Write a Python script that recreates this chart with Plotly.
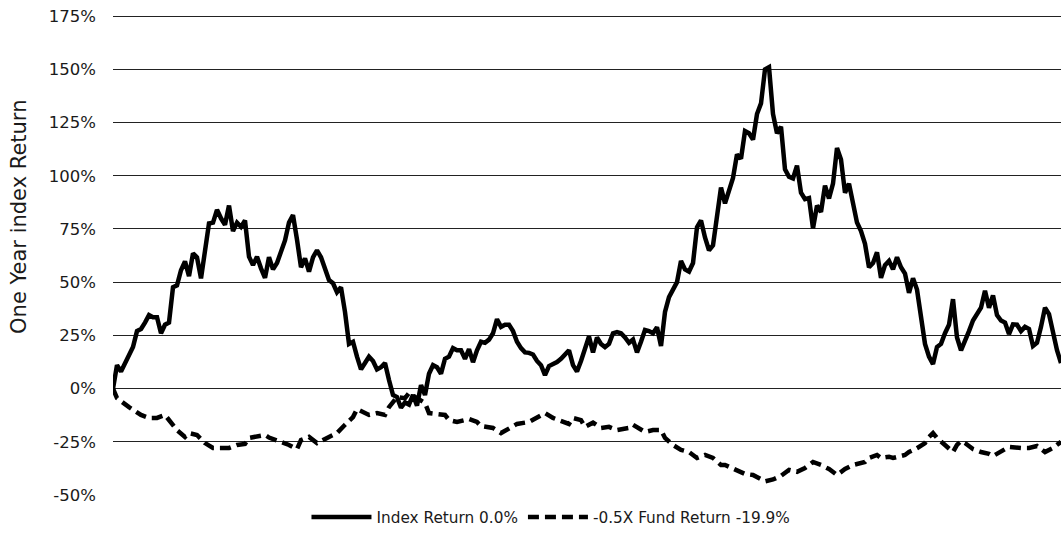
import plotly.graph_objects as go

# ---- Data ----
index_days = list(range(0, 238))
index_return = [
    0, 11, 8, 12, 15, 19.5, 27, 28, 31, 34.5,
    33.5, 33.5, 26, 30, 31, 47.6, 48.5, 55.6, 59.8, 52.8,
    63.5, 61.7, 51.8, 65, 77.6, 78, 84, 80, 77, 86,
    74, 78, 76, 79, 62, 58, 62, 56.5, 52, 61.7,
    56, 59, 64, 69.6, 78, 81.5, 70, 57, 61.2, 55,
    61.7, 65, 61.7, 56.5, 51, 49.5, 45.3, 47.6, 36, 21,
    22, 15, 9, 12, 15, 13, 9, 10, 12, 4,
    -3, -4, -9, -6.5, -7.5, -3, -8, 1.6, -3, 7,
    11, 10, 7, 14, 15, 19, 18, 18, 14, 18.5,
    12.4, 18, 22, 21.5, 23, 26, 32.6, 29, 30, 30,
    27, 22, 19, 17, 16.8, 16, 13, 11, 6.3, 10.6,
    11.5, 12.5, 14, 16, 18, 11, 8, 13, 18, 24.5,
    17, 24, 21, 19.5, 21, 26, 26.5, 26, 24, 21.5,
    23, 17, 22, 27.5, 27, 26, 28.8, 20, 36, 43,
    46.5, 50, 60, 56, 55, 59, 75.8, 79, 71, 65,
    67.3, 80, 94.5, 87, 94, 99, 110, 108, 121, 120,
    117, 129, 134, 150, 151, 129, 120, 123, 103, 99.5,
    98.7, 104.8, 92, 89, 89.5, 75.3, 86, 83, 95.4, 89.3,
    96.3, 113, 107.6, 92, 96.3, 87.5, 78, 74, 68, 57,
    59, 64, 52, 58, 60, 56, 61.7, 57, 54, 45,
    51.8, 46.5, 32, 21, 15, 11.5, 19.5, 21, 26, 30,
    42, 24, 18, 22, 27, 32, 35, 38, 46, 38,
    43.8, 34.5, 32, 31, 25.6, 30.2, 30, 27, 29, 28,
    20, 21.5, 29, 38, 35, 26, 18, 12,
]

fund_days = [
    0, 1, 4, 7, 9, 11, 13, 15, 16, 18, 19, 21, 23, 25, 27, 29, 31, 33, 34, 36,
    38, 39, 42, 44, 46, 47, 49, 51, 54, 56, 58, 60, 61, 64, 66, 68, 69, 71, 73, 74,
    76, 78, 79, 83, 84, 86, 89, 91, 92, 95, 97, 99, 101, 104, 106, 108, 110, 113, 114, 115,
    117, 118, 120, 122, 124, 126, 129, 130, 133, 135, 137, 138, 140, 142, 144, 146, 148, 150, 152, 153,
    156, 158, 160, 163, 165, 167, 169, 171, 173, 175, 177, 179, 181, 183, 185, 188, 189, 191, 192, 194,
    195, 198, 199, 201, 203, 204, 205, 206, 208, 210, 211, 212, 213, 215, 217, 219, 220, 223, 224, 227,
    229, 231, 233, 235, 237,
]
fund_return = [
    0, -4.5, -8.7, -12.4, -13.8, -13.8, -12.4, -17, -19.5, -22.7, -20.9, -21.8, -25.6, -27.9, -27.9, -27.9, -26.5, -26, -23.2, -22.7,
    -21.8, -23, -25, -26.5, -28.4, -24.2, -22.7, -25.6, -22.7, -20.9, -17, -13.4, -9.6, -12.4, -11.5, -12.4, -8.7, -4, -4.5, -2.1,
    -4.5, -6.8, -11.5, -12.4, -14.8, -15.7, -14.3, -15.7, -17.6, -18.5, -20.9, -19, -16.6, -15.7, -13.8, -11.5, -13.8, -15.7, -16.6, -13.8,
    -14.8, -18, -16, -18.5, -18, -19.5, -18.5, -17, -20.4, -19.5, -19.5, -23.2, -26.5, -28.8, -29.8, -32.6, -31.2, -32.6, -35.9, -35.9,
    -38.7, -40.1, -40.6, -43.6, -42.7, -41, -38.2, -39.1, -37.3, -34.5, -35.9, -37.8, -40.6, -37.8, -35.9, -34.5, -32.6, -31.2, -32.6, -32,
    -32.6, -31.2, -29.8, -28, -25.6, -22.7, -20.9, -23.2, -26.5, -29.8, -26.5, -24.6, -25.6, -28.4, -29.8, -30.7, -31.7, -28.4, -27.4, -27.9,
    -27.9, -27, -29.8, -27.9, -25,
]

series_names = ["Index Return 0.0%", "-0.5X Fund Return -19.9%"]
y_ticks = [-50, -25, 0, 25, 50, 75, 100, 125, 150, 175]
y_tick_labels = [f"{v}%" for v in y_ticks]
y_title = "One Year index Return"

FONT = "DejaVu Sans, Verdana, sans-serif"
INK = "#1a1a1a"

fig = go.Figure()
fig.add_trace(go.Scatter(
    x=index_days, y=index_return, mode="lines", name=series_names[0],
    line=dict(color="#000000", width=4.5),
))
fig.add_trace(go.Scatter(
    x=fund_days, y=fund_return, mode="lines", name=series_names[1],
    line=dict(color="#000000", width=4.5, dash="11px,6px"),
))

# The y range reaches 1% past the top tick so Plotly keeps the 175% grid line
# (it drops grid lines lying within 1px of the plot edge).
fig.update_layout(
    width=1061, height=535,
    margin=dict(l=113, r=0, t=14, b=40),
    paper_bgcolor="#ffffff", plot_bgcolor="#ffffff",
    font=dict(family=FONT, size=16, color=INK),
    showlegend=True,
    legend=dict(
        orientation="h", x=0.462, xanchor="center", y=-0.0457, yanchor="middle",
        font=dict(size=15.3, color=INK), bgcolor="rgba(0,0,0,0)",
        itemwidth=60,
    ),
    annotations=[dict(
        text=y_title, textangle=-90, showarrow=False,
        xref="paper", yref="paper", x=-0.0992, y=0.578,
        xanchor="center", yanchor="middle",
        font=dict(size=21, color=INK, family=FONT),
    )],
)
fig.update_xaxes(
    range=[0, 237], showgrid=False, zeroline=False, showticklabels=False,
    showline=False, ticks="",
)
fig.update_yaxes(
    range=[-50, 176], tickvals=y_ticks, ticktext=y_tick_labels,
    tickfont=dict(size=16.5), ticklabeloverflow="allow",
    showgrid=True, gridcolor="#222222", gridwidth=1,
    zeroline=False, showline=False, ticks="",
    ticklabelstandoff=16,
    automargin=False,
)

# Remove the browser's default 8px page margin so the figure sits at the window origin.
fig.write_html(
    "out.html",
    config={"displayModeBar": False},
    post_script="document.body.style.margin='0px'; document.documentElement.style.overflow='hidden';",
)
